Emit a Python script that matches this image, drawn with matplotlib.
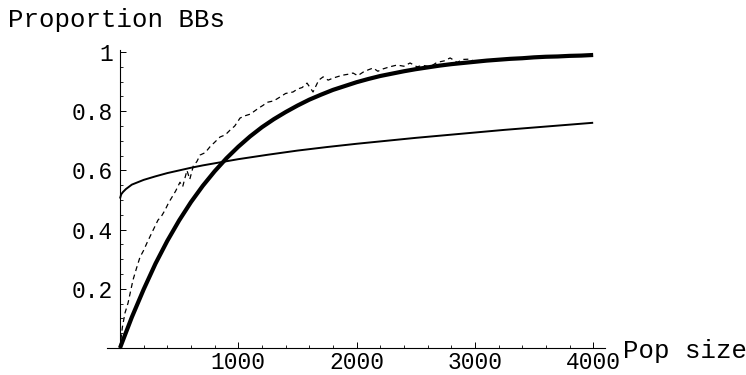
import matplotlib
matplotlib.use("Agg")
import matplotlib.pyplot as plt
from matplotlib.ticker import MultipleLocator

# data
pop_thick = [0, 100, 200, 300, 400, 500, 600, 700, 800, 900, 1000, 1100, 1200,
             1300, 1400, 1500, 1600, 1700, 1800, 1900, 2000, 2100, 2200, 2300,
             2400, 2500, 2600, 2700, 2800, 2900, 3000, 3100, 3200, 3300, 3400,
             3500, 3600, 3700, 3800, 3900, 4000]
prop_thick = [0.0, 0.104, 0.198, 0.285, 0.362, 0.431, 0.493, 0.548, 0.597, 0.641,
              0.680, 0.715, 0.746, 0.773, 0.797, 0.819, 0.839, 0.856, 0.872, 0.885,
              0.898, 0.909, 0.919, 0.927, 0.935, 0.942, 0.948, 0.954, 0.959, 0.963,
              0.967, 0.971, 0.974, 0.977, 0.979, 0.982, 0.984, 0.985, 0.987, 0.988,
              0.990]

pop_thin = [0, 10, 25, 50, 100, 200, 300, 400, 500, 600, 700, 800, 900, 1000,
            1250, 1500, 1750, 2000, 2250, 2500, 2750, 3000, 3250, 3500, 3750, 4000]
prop_thin = [0.505, 0.519, 0.527, 0.537, 0.552, 0.568, 0.580, 0.591, 0.600, 0.609,
             0.617, 0.624, 0.631, 0.638, 0.653, 0.667, 0.679, 0.690, 0.700, 0.710,
             0.719, 0.728, 0.737, 0.745, 0.753, 0.761]

pop_sim = [0, 20, 42, 68, 110, 140, 169, 200, 228, 270, 321, 350, 381, 410, 440,
           470, 507, 530, 566, 590, 620, 650, 677, 720, 761, 800, 846, 890, 930, 970,
           1015, 1060, 1100, 1125, 1170, 1210, 1243, 1300, 1353, 1400, 1463, 1500,
           1540, 1581, 1632, 1680, 1717, 1760, 1801, 1850, 1886, 1930, 1970, 2010,
           2055, 2100, 2140, 2180, 2224, 2280, 2342, 2400, 2452, 2511, 2560, 2621,
           2680, 2740, 2791, 2850, 2900, 2960, 2985]
prop_sim = [0.0, 0.07, 0.118, 0.152, 0.23, 0.27, 0.307, 0.33, 0.355, 0.39, 0.432,
            0.445, 0.466, 0.49, 0.51, 0.53, 0.56, 0.545, 0.60, 0.57, 0.615, 0.63,
            0.652, 0.66, 0.68, 0.695, 0.713, 0.72, 0.736, 0.75, 0.777, 0.785, 0.79,
            0.797, 0.81, 0.82, 0.83, 0.835, 0.848, 0.86, 0.865, 0.875, 0.88, 0.895,
            0.865, 0.905, 0.916, 0.905, 0.912, 0.918, 0.922, 0.925, 0.929, 0.92,
            0.932, 0.94, 0.946, 0.935, 0.943, 0.95, 0.956, 0.952, 0.963, 0.95, 0.955,
            0.95, 0.965, 0.97, 0.98, 0.965, 0.975, 0.976, 0.97]

x_ticks = [1000, 2000, 3000, 4000]
y_ticks = [0.2, 0.4, 0.6, 0.8, 1.0]
y_tick_labels = ["0.2", "0.4", "0.6", "0.8", "1"]

plt.rcParams['font.family'] = ['Liberation Mono', 'DejaVu Sans Mono']

fig = plt.figure(figsize=(7.46, 3.75), dpi=100)
ax = fig.add_axes([0.1434, 0.0688, 0.6676, 0.798])

ax.plot(pop_thin, prop_thin, color='black', lw=1.4, solid_capstyle='butt')
ax.plot(pop_thick, prop_thick, color='black', lw=3.0, solid_capstyle='butt')
ax.plot(pop_sim, prop_sim, color='black', lw=0.9, dashes=(4, 3))

ax.set_xlim(-110, 4100)
ax.set_ylim(-0.004, 1.007)

# Mathematica style axes crossing at the origin
ax.spines['left'].set_position(('data', 0))
ax.spines['bottom'].set_position(('data', 0))
ax.spines['left'].set_bounds(0, 1.007)
ax.spines['right'].set_visible(False)
ax.spines['top'].set_visible(False)
for s in ('left', 'bottom'):
    ax.spines[s].set_linewidth(0.8)

ax.set_xticks(x_ticks)
ax.set_yticks(y_ticks)
ax.set_yticklabels(y_tick_labels)
ax.xaxis.set_minor_locator(MultipleLocator(200))
ax.yaxis.set_minor_locator(MultipleLocator(0.05))
ax.tick_params(which='major', direction='in', length=4, width=0.7,
               labelsize=16.5, pad=5)
ax.tick_params(axis='x', which='major', pad=2.5)
ax.tick_params(which='minor', direction='in', length=2.2, width=0.6)

fig.text(8 / 746, 1 - 27 / 375, "Proportion BBs", fontsize=18.5, va='baseline')
fig.text(623 / 746, 1 - 358 / 375, "Pop size", fontsize=18.5, va='baseline')

fig.savefig("out.png", dpi=100)
